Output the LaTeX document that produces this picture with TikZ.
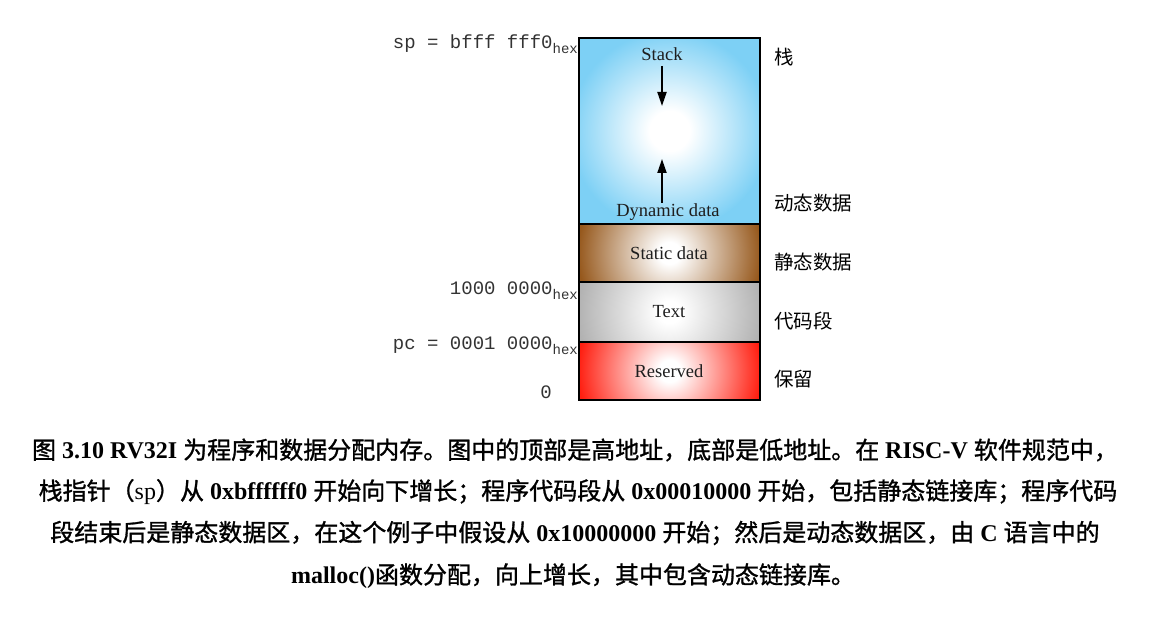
\documentclass[tikz,border=0pt]{standalone}
\usepackage{fontspec}
\setmainfont{Liberation Serif}
\setmonofont{Liberation Mono}
\newfontfamily\cjk{Noto Sans CJK SC}
\newfontfamily\cjkcap[FakeBold=1.2]{Noto Sans CJK SC}
\usetikzlibrary{arrows.meta}
\definecolor{stackblue}{RGB}{125,208,245}
\definecolor{statbrown}{RGB}{150,88,28}
\definecolor{textgray}{RGB}{178,178,178}
\definecolor{resred}{RGB}{255,30,16}
\definecolor{lbl}{RGB}{30,30,30}
\pgfdeclareradialshading{shstack}{\pgfpoint{0bp}{0bp}}{color(0bp)=(white); color(5bp)=(white); color(25bp)=(stackblue); color(50bp)=(stackblue)}
\pgfdeclareradialshading{shstat}{\pgfpoint{0bp}{0bp}}{color(0bp)=(white); color(3bp)=(white); color(25bp)=(statbrown); color(50bp)=(statbrown)}
\pgfdeclareradialshading{shtext}{\pgfpoint{0bp}{0bp}}{color(0bp)=(white); color(3bp)=(white); color(25bp)=(textgray); color(50bp)=(textgray)}
\pgfdeclareradialshading{shres}{\pgfpoint{0bp}{0bp}}{color(0bp)=(white); color(3bp)=(white); color(25bp)=(resred); color(50bp)=(resred)}
\newcommand\zh[1]{{\cjkcap\mdseries #1}}
\newcommand\hexsub{\raisebox{-5pt}{\fontsize{14}{14}\selectfont hex}}
\begin{document}
\begin{tikzpicture}[x=1pt,y=-1pt,
  seg/.style={draw=black, line width=1.5pt, minimum width=181pt, inner sep=0pt},
  boxlbl/.style={font=\fontsize{18.5}{22}\selectfont, text=lbl, inner sep=0pt},
  addr/.style={font=\ttfamily\fontsize{19}{21}\selectfont, text=black!80, anchor=base east, inner sep=0pt},
  zhlbl/.style={font=\cjk\fontsize{19.5}{22}\selectfont, anchor=west, inner sep=0pt},
  captxt/.style={font=\bfseries\fontsize{24}{28}\selectfont, inner sep=0pt},
  arr/.style={line width=2pt, -{Triangle[length=14pt,width=9pt]}}]
\useasboundingbox (0,0) rectangle (1149,620);
% memory segments
\node[seg, fill=stackblue, minimum height=186pt,
  path picture={\shade[shading=shstack] (path picture bounding box.center) circle (100pt);}] (stack) at (669.5,131) {};
\node[seg, fill=statbrown, minimum height=58pt,
  path picture={\shade[shading=shstat] (path picture bounding box.center) circle (92pt);}] (static) at (669.5,253) {};
\node[seg, fill=textgray, minimum height=60pt,
  path picture={\shade[shading=shtext] (path picture bounding box.center) circle (92pt);}] (text) at (669.5,312) {};
\node[seg, fill=resred, minimum height=58pt,
  path picture={\shade[shading=shres] (path picture bounding box.center) circle (92pt);}] (res) at (669.5,371) {};
% labels in boxes
\node[boxlbl] (stacklbl) at (662,54) {Stack};
\node[boxlbl] (dynlbl) at (668,212) {Dynamic data};
\node[boxlbl] (statlbl) at (669,253) {Static data};
\node[boxlbl] (textlbl) at (669,312) {Text};
\node[boxlbl] (reslbl) at (669,371) {Reserved};
% arrows
\coordinate (dbase) at (662,66);
\coordinate (dtip) at (662,106);
\coordinate (utip) at (662,159);
\coordinate (ubase) at (662,203);
\draw[arr] (dbase) -- (dtip);
\draw[arr] (ubase) -- (utip);
% addresses
\node[addr] (sp) at (578,49) {sp = bfff fff0\hexsub};
\node[addr] (a1) at (578,295) {1000 0000\hexsub};
\node[addr] (pc) at (578,350) {pc = 0001 0000\hexsub};
\node[addr] (zero) at (552,398) {0};
% chinese labels
\node[zhlbl] (z1) at (774,57) {栈};
\node[zhlbl] (z2) at (774,203) {动态数据};
\node[zhlbl] (z3) at (774,262) {静态数据};
\node[zhlbl] (z4) at (774,321) {代码段};
\node[zhlbl] (z5) at (774,379) {保留};
% caption
\node[captxt] (c1) at (575,450) {\zh{图} 3.10 RV32I \zh{为程序和数据分配内存。图中的顶部是高地址，底部是低地址。在} RISC-V \zh{软件规范中，}};
\node[captxt] (c2) at (578,492) {\zh{栈指针（}{\mdseries sp}\zh{）从} 0xbffffff0 \zh{开始向下增长；程序代码段从} 0x00010000 \zh{开始，包括静态链接库；程序代码}};
\node[captxt] (c3) at (575,533) {\zh{段结束后是静态数据区，在这个例子中假设从} 0x10000000 \zh{开始；然后是动态数据区，由} C \zh{语言中的}};
\node[captxt] (c4) at (573,576) {malloc()\zh{函数分配，向上增长，其中包含动态链接库。}};
\end{tikzpicture}
\end{document}
